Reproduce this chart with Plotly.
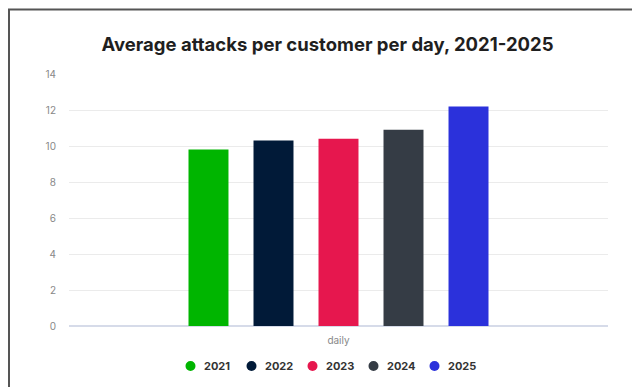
import plotly.graph_objects as go

# Data
years = ["2021", "2022", "2023", "2024", "2025"]
attacks_per_day = [9.8, 10.3, 10.4, 10.9, 12.2]
category = ["daily"]
colors = ["#00b500", "#011a38", "#e6174e", "#353c45", "#2b31db"]
y_ticks = [0, 2, 4, 6, 8, 10, 12, 14]

W, H = 632, 387
ML, MR, MT, MB = 69, 24, 74, 61
plot_w = W - ML - MR
plot_h = H - MT - MB

fig = go.Figure()

for yr, val, col in zip(years, attacks_per_day, colors):
    fig.add_trace(go.Bar(
        x=category, y=[val], name=yr, marker=dict(color=col, line=dict(width=0)),
        showlegend=False, hovertemplate="%{y}<extra>" + yr + "</extra>",
    ))


def px_to_paper_x(px):
    return (px - ML) / plot_w


def px_to_paper_y(py):
    return (H - MB - py) / plot_h


# outer frame (open on the right and bottom edges)
fig.add_shape(
    type="rect", xref="paper", yref="paper",
    x0=px_to_paper_x(9), x1=px_to_paper_x(W + 20),
    y0=px_to_paper_y(H + 20), y1=px_to_paper_y(9.5),
    line=dict(color="#555555", width=2), fillcolor="rgba(0,0,0,0)", layer="above",
)

# legend row: dot + bold year label, centred under the chart
LEG_Y = 366
LEG_X0 = 190.5
LEG_STEP = 61
DOT_R = 5
for i, (yr, col) in enumerate(zip(years, colors)):
    cx = LEG_X0 + i * LEG_STEP
    fig.add_shape(
        type="circle", xref="paper", yref="paper",
        x0=px_to_paper_x(cx - DOT_R), x1=px_to_paper_x(cx + DOT_R),
        y0=px_to_paper_y(LEG_Y + DOT_R), y1=px_to_paper_y(LEG_Y - DOT_R),
        fillcolor=col, line=dict(width=0),
    )
    fig.add_annotation(
        xref="paper", yref="paper", x=px_to_paper_x(cx + 11), y=px_to_paper_y(LEG_Y),
        xanchor="left", yanchor="middle", showarrow=False, text=f"<b>{yr}</b>",
        font=dict(family="Inter, sans-serif", size=11, color="#333333"),
    )

fig.update_layout(
    width=W, height=H,
    margin=dict(l=ML, r=MR, t=MT, b=MB, autoexpand=False),
    paper_bgcolor="white", plot_bgcolor="white",
    font=dict(family="Inter, Roboto, sans-serif", color="#333333"),
    title=dict(
        text="<b>Average attacks per customer per day, 2021-2025</b>",
        font=dict(family="Inter, sans-serif", size=18.5, color="#1f1f1f"),
        x=(327.5 / W), xanchor="center", y=1 - 45 / H, yanchor="middle", yref="container",
    ),
    barmode="group", bargap=0.397, bargroupgap=0.385,
    showlegend=False,
    xaxis=dict(
        type="category", showgrid=False, showline=False, zeroline=False,
        tickfont=dict(size=10, color="#888888"), ticks="", ticklabelstandoff=7,
    ),
    yaxis=dict(
        range=[0, 14], tickvals=y_ticks, showgrid=True, gridcolor="#ebebeb", gridwidth=1,
        zeroline=True, zerolinecolor="#d6dbe9", zerolinewidth=2, showline=False,
        tickfont=dict(size=10, color="#888888"), ticks="", ticklabelstandoff=12,
    ),
)

fig.write_html("out.html")
